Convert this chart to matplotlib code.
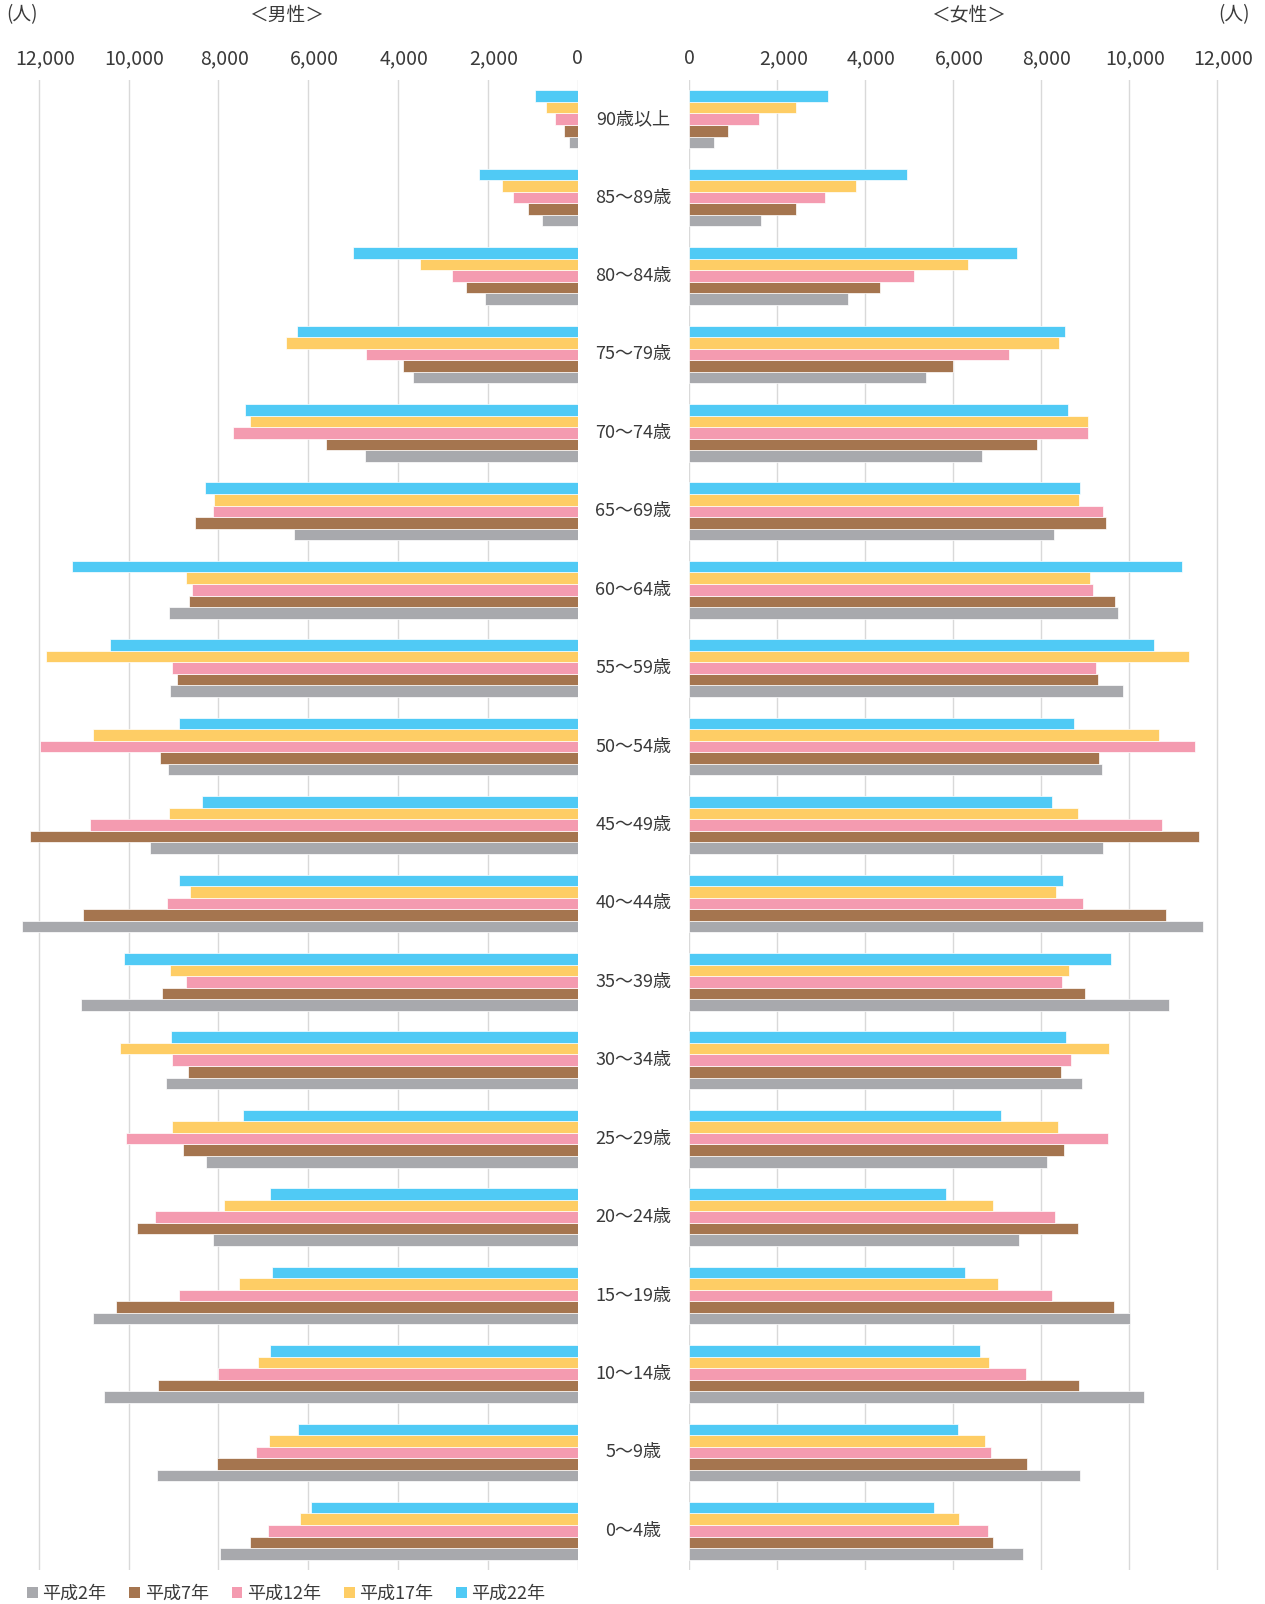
import matplotlib
matplotlib.use("Agg")
import matplotlib.pyplot as plt
import matplotlib.transforms as mtransforms
from matplotlib.patches import Patch
import numpy as np

plt.rcParams['font.family'] = ['Noto Sans CJK JP', 'DejaVu Sans']

categories = ["90歳以上", "85～89歳", "80～84歳", "75～79歳", "70～74歳", "65～69歳",
              "60～64歳", "55～59歳", "50～54歳", "45～49歳", "40～44歳", "35～39歳",
              "30～34歳", "25～29歳", "20～24歳", "15～19歳", "10～14歳", "5～9歳", "0～4歳"]
series_names = ["平成2年", "平成7年", "平成12年", "平成17年", "平成22年"]

male_h2  = [196, 801, 2053, 3663, 4727, 6303, 9089, 9080, 9123, 9532, 12368, 11056, 9174, 8279, 8109, 10784, 10537, 9370, 7956]
male_h7  = [290, 1107, 2479, 3893, 5605, 8510, 8654, 8910, 9302, 12189, 11005, 9251, 8671, 8791, 9813, 10273, 9344, 8024, 7291]
male_h12 = [494, 1431, 2785, 4702, 7675, 8118, 8595, 9021, 11968, 10860, 9148, 8722, 9021, 10060, 9412, 8867, 8007, 7155, 6900]
male_h17 = [707, 1678, 3509, 6499, 7300, 8101, 8714, 11840, 10792, 9089, 8620, 9072, 10179, 9021, 7879, 7538, 7121, 6874, 6176]
male_h22 = [937, 2189, 5009, 6244, 7411, 8297, 11261, 10409, 8867, 8365, 8867, 10094, 9046, 7453, 6840, 6806, 6840, 6218, 5937]

female_h2  = [552, 1631, 3618, 5376, 6659, 8289, 9758, 9860, 9393, 9419, 11686, 10905, 8935, 8145, 7499, 10013, 10344, 8884, 7593]
female_h7  = [875, 2429, 4331, 6005, 7907, 9478, 9674, 9291, 9325, 11601, 10846, 9003, 8451, 8527, 8850, 9657, 8858, 7678, 6905]
female_h12 = [1580, 3091, 5104, 7262, 9071, 9419, 9172, 9257, 11500, 10761, 8960, 8468, 8680, 9512, 8323, 8255, 7661, 6854, 6786]
female_h17 = [2421, 3796, 6344, 8400, 9071, 8867, 9105, 11364, 10693, 8833, 8349, 8629, 9546, 8374, 6913, 7024, 6820, 6726, 6140]
female_h22 = [3151, 4943, 7448, 8535, 8603, 8884, 11194, 10565, 8756, 8247, 8510, 9589, 8578, 7100, 5835, 6276, 6616, 6115, 5563]

tick_values = [0, 2000, 4000, 6000, 8000, 10000, 12000]
colors = ["#A8A9AD", "#A5754F", "#F49BB0", "#FECD65", "#50CAF5"]

male = [male_h2, male_h7, male_h12, male_h17, male_h22]
female = [female_h2, female_h7, female_h12, female_h17, female_h22]

W, H = 1265, 1604
fig = plt.figure(figsize=(W / 100, H / 100), dpi=100)

top_px, bot_px = 80, 1570
l_zero, l_per1000 = 577.5, 44.9
r_zero, r_per1000 = 689.3, 43.97
xmax = 12500
l_left = l_zero - xmax / 1000 * l_per1000
axL = fig.add_axes([l_left / W, 1 - bot_px / H, (l_zero - l_left) / W, (bot_px - top_px) / H])
axR = fig.add_axes([r_zero / W, 1 - bot_px / H, xmax / 1000 * r_per1000 / W, (bot_px - top_px) / H])

n = len(categories)
y = np.arange(n)
group_frac = 0.735
h = group_frac / 5
text_color = "#3A3A3A"

for ax, data in ((axL, male), (axR, female)):
    for j, vals in enumerate(data):
        offs = (2 - j) * h
        ax.barh(y + offs, vals, height=h, color=colors[j], edgecolor="white",
                linewidth=0.5, zorder=3)
    ax.set_ylim(n - 0.5, -0.5)
    ax.set_yticks([])
    for s in ax.spines.values():
        s.set_visible(False)
    ax.set_xticks(tick_values)
    ax.set_xticklabels([f"{v:,}" for v in tick_values])
    ax.xaxis.tick_top()
    ax.tick_params(axis="x", length=0, pad=8, labelsize=14, labelcolor=text_color)
    ax.grid(axis="x", color="#D9D9D9", linewidth=1.0, zorder=0)
    ax.set_axisbelow(True)
    shift = mtransforms.ScaledTranslation(6 / 100, 0, fig.dpi_scale_trans)
    for v, lab in zip(tick_values, ax.get_xticklabels()):
        if v != 0:
            lab.set_transform(lab.get_transform() + shift)

axL.set_xlim(xmax, 0)
axR.set_xlim(0, xmax)

trans = mtransforms.blended_transform_factory(fig.transFigure, axL.transData)
cx = (l_zero + r_zero) / 2 / W
for i, c in enumerate(categories):
    axL.text(cx, i, c, transform=trans, ha="center", va="center",
             fontsize=13, color=text_color, clip_on=False)

fig.text(287 / W, 1 - 15 / H, "＜男性＞", ha="center", va="center", fontsize=13.5, color=text_color)
fig.text(969 / W, 1 - 15 / H, "＜女性＞", ha="center", va="center", fontsize=13.5, color=text_color)
fig.text(6 / W, 1 - 15 / H, "(人)", ha="left", va="center", fontsize=13.5, color=text_color)
fig.text(1250 / W, 1 - 15 / H, "(人)", ha="right", va="center", fontsize=13.5, color=text_color)

handles = [Patch(facecolor=colors[j], edgecolor="none", label=series_names[j]) for j in range(5)]
fig.legend(handles=handles, loc="center left", bbox_to_anchor=(27 / W, 1 - 1594 / H),
           ncol=5, frameon=False, fontsize=13, handlelength=0.6, handleheight=0.6,
           handletextpad=0.25, columnspacing=1.27, borderaxespad=0, borderpad=0,
           labelcolor=text_color)

fig.savefig("out.png", dpi=100)
